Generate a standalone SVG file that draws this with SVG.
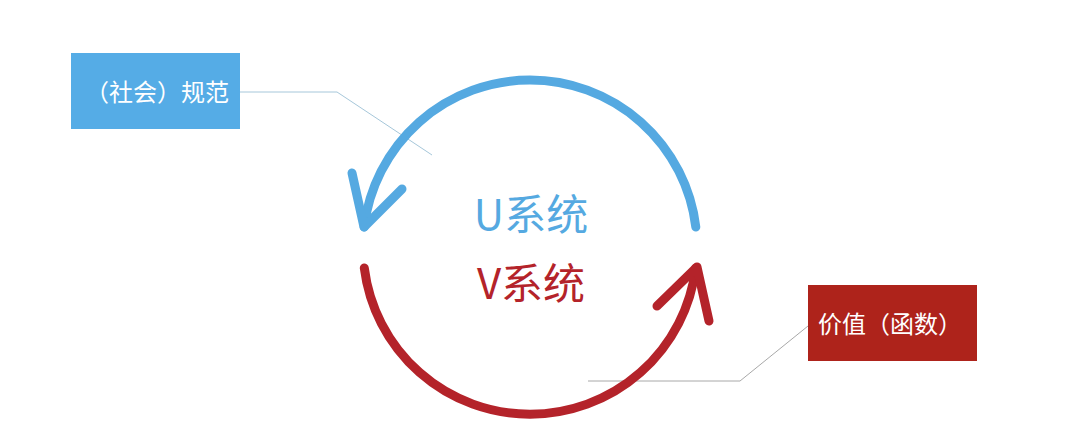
<svg xmlns="http://www.w3.org/2000/svg" width="1080" height="440" viewBox="0 0 1080 440">
  <style>
    .lbl { font-family: "Noto Sans CJK SC", "Noto Sans", sans-serif; fill: #ffffff; font-size: 24px; }
    .big { font-family: "Noto Sans CJK SC", "Noto Sans", sans-serif; font-size: 42px; text-anchor: middle; }
    .blue { stroke: #55A9E1; stroke-width: 9; fill: none; stroke-linecap: round; stroke-linejoin: round; }
    .red { stroke: #B4232A; stroke-width: 9; fill: none; stroke-linecap: round; stroke-linejoin: round; }
    .lead { fill: none; stroke-width: 1; }
  </style>
  <rect width="1080" height="440" fill="#ffffff"/>
  <g id="connectors">
    <path class="lead" d="M 240 92 L 337 92 L 432 155" stroke="#A6C7DA"/>
    <path class="lead" d="M 808 326 L 740 381 L 588 381" stroke="#A8A8A8"/>
  </g>
  <g id="u-cycle">
    <path class="blue" d="M 695.8 227 A 167 167 0 0 0 364.2 227"/>
    <polyline class="blue" points="352,173 364,227 402,189"/>
  </g>
  <g id="v-cycle">
    <path class="red" d="M 364.3 268 A 167 167 0 0 0 695.7 268"/>
    <polyline class="red" points="657,306 697,267 709,321"/>
  </g>
  <g id="norm">
    <rect x="71" y="53" width="169" height="76" fill="#55ACE6"/>
    <text class="lbl" x="157" y="101" text-anchor="middle">（社会）规范</text>
  </g>
  <g id="value">
    <rect x="808" y="285" width="169" height="76" fill="#AE231B"/>
    <text class="lbl" x="890" y="333" text-anchor="middle">价值（函数）</text>
  </g>
  <g id="u-system">
    <text class="big" x="531" y="230" fill="#55A9E1">U系统</text>
  </g>
  <g id="v-system">
    <text class="big" x="531" y="299" fill="#B4232A">V系统</text>
  </g>
</svg>
